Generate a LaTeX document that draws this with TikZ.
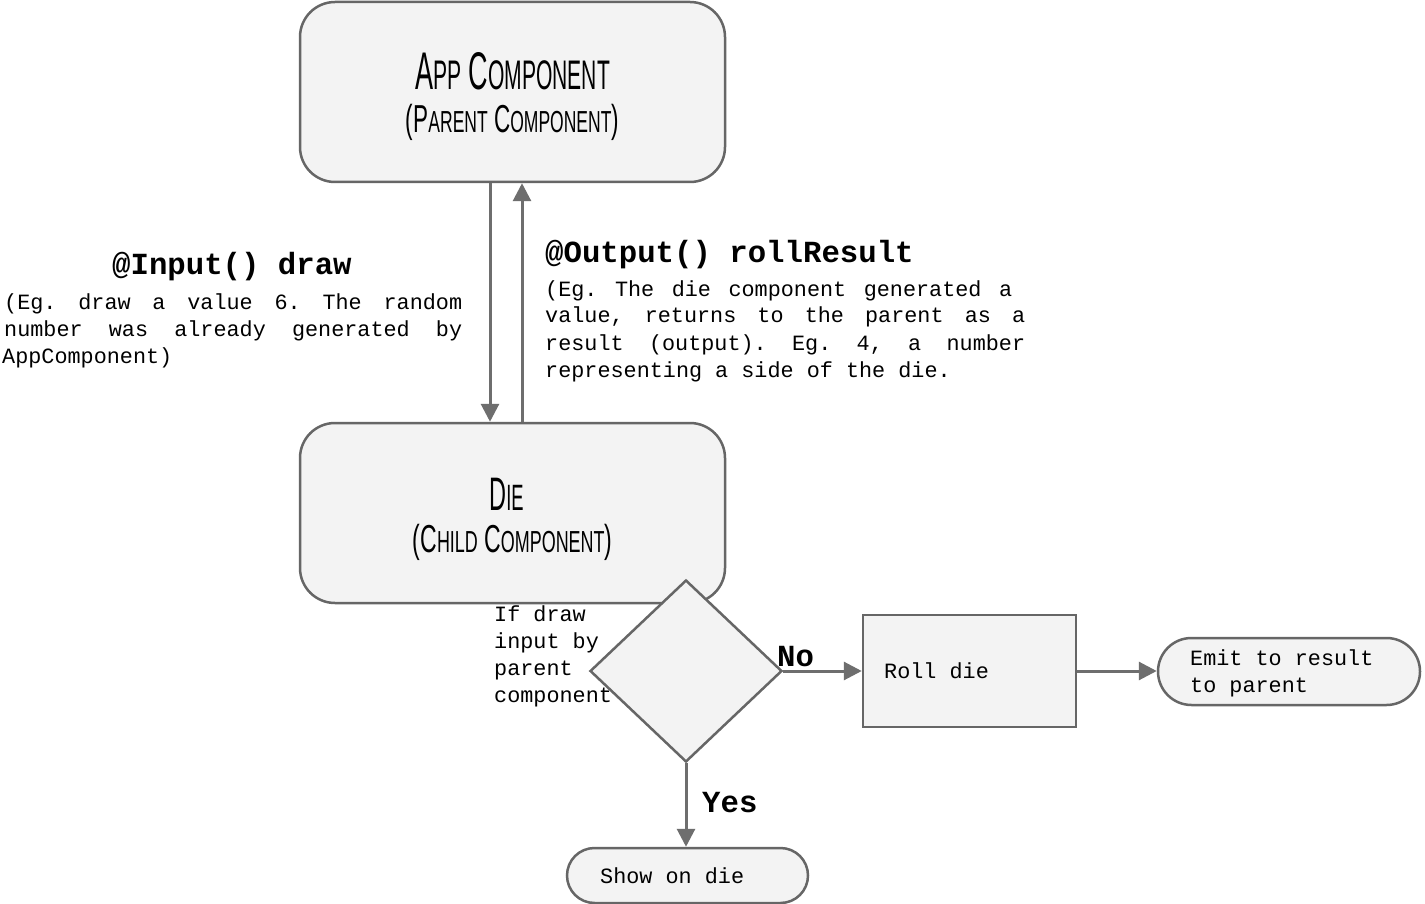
\documentclass[tikz,border=0pt]{standalone}
\usepackage{graphicx}
\usepackage{fontspec}
\usetikzlibrary{arrows.meta,shapes.geometric}
\newfontfamily\monof{Liberation Mono}
\newfontfamily\titlef{Liberation Sans}
\definecolor{boxfill}{HTML}{F3F3F3}
\definecolor{edgec}{HTML}{666666}
\definecolor{arrc}{HTML}{6E6E6E}
\newcommand\fsm[1]{\scalebox{0.78}{#1}}
\newcommand\jline[2]{\makebox[#1][s]{\frenchspacing\spaceskip=0.6em plus 1fil\relax #2}}
\tikzset{
  comp/.style={draw=edgec, fill=boxfill, line width=2.5pt, rounded corners=35pt,
    minimum width=425pt, minimum height=180pt, inner sep=0pt},
  flow/.style={-{Triangle[length=18pt,width=18pt]}, draw=arrc, line width=3pt},
  plain/.style={draw=edgec, fill=boxfill, line width=2.5pt, inner sep=0pt},
  mono/.style={font=\monof\fontsize{21.8}{27}\selectfont\frenchspacing, inner sep=0pt, anchor=base west},
  monob/.style={font=\monof\bfseries\fontsize{30.7}{34}\selectfont, inner sep=0pt, anchor=base west},
  ttl/.style={inner sep=0pt, anchor=base},
}
\begin{document}
\frenchspacing
\begin{tikzpicture}[x=1pt,y=-1pt]
\fill[white] (0,0) rectangle (1425,904);
\useasboundingbox (0,0) rectangle (1425,904);

% component boxes
\node[comp] (app) at (512.5,92) {};
\node[comp] (die) at (512.5,513) {};

\node[ttl] (appt) at (512.5,90) {\scalebox{0.51}[1]{\titlef\fontsize{53}{60}\selectfont A\fsm{PP} C\fsm{OMPONENT}}};
\node[ttl] (appst) at (512.5,133) {\scalebox{0.576}[1]{\titlef\fontsize{39}{44}\selectfont (P\fsm{ARENT} C\fsm{OMPONENT})}};
\node[ttl] (diet) at (506.5,510) {\scalebox{0.5}[1]{\titlef\fontsize{47}{52}\selectfont D\fsm{IE}}};
\node[ttl] (diest) at (512.5,552) {\scalebox{0.59}[1]{\titlef\fontsize{39}{44}\selectfont (C\fsm{HILD} C\fsm{OMPONENT})}};

% input/output arrows
\coordinate (cin) at (490,0);
\coordinate (cout) at (522,0);
\draw[flow] (app.south -| cin) -- (die.north -| cin);
\draw[flow] (die.north -| cout) -- (app.south -| cout);

% left text
\node[monob] (inl) at (112,275) {@Input() draw};
\node[mono] (in1) at (4,309) {\jline{458pt}{(Eg. draw a value 6. The random}};
\node[mono] (in2) at (4,336) {\jline{458pt}{number was already generated by}};
\node[mono] (in3) at (2,363) {AppComponent)};

% right text
\node[monob] (outl) at (545,262) {@Output() rollResult};
\node[mono] (out1) at (545,296) {\jline{467pt}{(Eg. The die component generated a}};
\node[mono] (out2) at (545,323) {\jline{480pt}{value, returns to the parent as a}};
\node[mono] (out3) at (545,350) {\jline{480pt}{result (output). Eg. 4, a number}};
\node[mono] (out4) at (545,377) {representing a side of the die.};

% flowchart
\node[plain, shape=diamond, minimum width=192pt, minimum height=182pt] (dia) at (686,671) {};
\node[plain, minimum width=213pt, minimum height=112pt] (roll) at (969.5,671) {};
\node[plain, rounded corners=33.5pt, minimum width=262pt, minimum height=67pt] (emit) at (1289,671.5) {};
\node[plain, rounded corners=27.5pt, minimum width=241pt, minimum height=55pt] (show) at (687.5,875.5) {};

\draw[flow] (dia.east) -- (roll.west);
\draw[flow] (roll.east) -- (emit.west |- roll.east);
\draw[flow] (dia.south) -- (dia.south |- show.north);

\node[mono] (if1) at (494,621) {If draw};
\node[mono] (if2) at (494,648) {input by};
\node[mono] (if3) at (494,675) {parent};
\node[mono] (if4) at (494,702) {component};

\node[monob] (no) at (777,666) {No};
\node[monob] (yes) at (702,812) {Yes};

\node[mono] (rollt) at (884,678) {Roll die};
\node[mono] (emit1) at (1190,665) {Emit to result};
\node[mono] (emit2) at (1190,692) {to parent};
\node[mono] (showt) at (600,883) {Show on die};
\end{tikzpicture}
\end{document}
